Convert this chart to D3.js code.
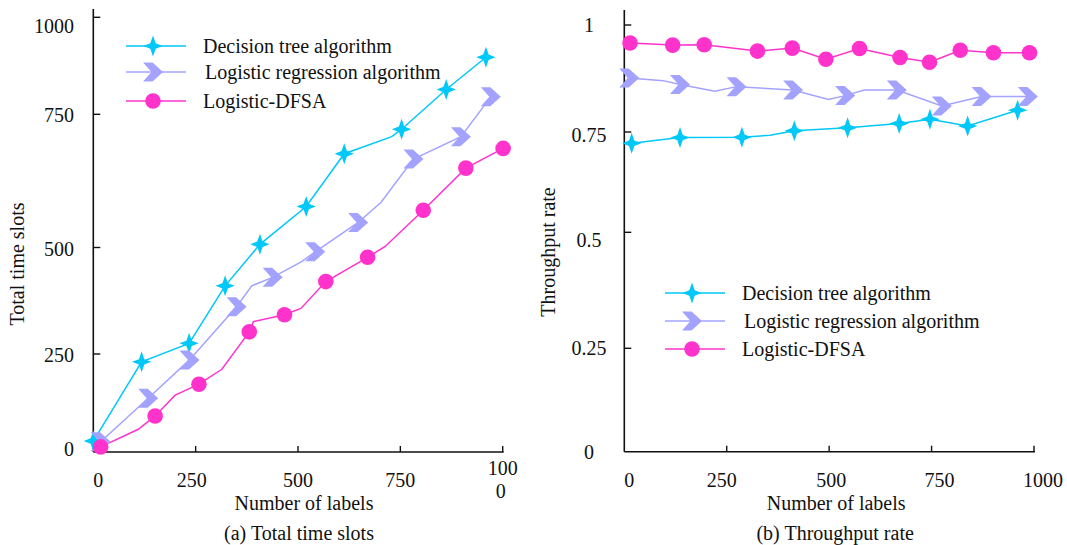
<!DOCTYPE html>
<html><head><meta charset="utf-8">
<script src="https://cdn.jsdelivr.net/npm/d3@7"></script>
<style>
body{margin:0;background:#fff;}
svg{display:block;}
</style></head>
<body><svg id="c" width="1067" height="545" font-family="'Liberation Serif', 'DejaVu Serif', serif" font-size="20"></svg>
<script>
// ---------- data ----------
const seriesNames = ["Decision tree algorithm", "Logistic regression algorithm", "Logistic-DFSA"];
const xTicks = [0, 250, 500, 750, 1000];
const timeTicks = [0, 250, 500, 750, 1000];
const rateTicks = [0, 0.25, 0.5, 0.75, 1];
// [labels, value, marker?]
const treeTime = [[0,28,1],[118,230,1],[234,275,1],[322,410,1],[407,506,1],[520,577,1],[613,676,1],[729,708,0],[753,722,1],[862,814,1],[959,897,1]];
const logTime  = [[18,26,1],[134,137,1],[235,235,1],[350,361,1],[387,410,0],[438,430,1],[509,467,0],[542,490,1],[647,547,1],[703,585,0],[782,666,1],[898,708,1],[971,795,1]];
const dfsaTime = [[18,13,1],[110,58,0],[151,92,1],[200,145,0],[258,173,1],[314,211,0],[381,302,1],[391,326,0],[467,342,1],[507,357,0],[568,420,1],[670,477,1],[713,502,0],[806,570,1],[910,649,1],[1001,686,1]];
const treeRate = [[18,0.722,1],[136,0.736,1],[287,0.737,1],[356,0.742,0],[415,0.753,1],[545,0.760,1],[671,0.770,1],[746,0.780,1],[838,0.764,1],[960,0.801,1]];
const logRate  = [[12,0.876,1],[95,0.870,0],[136,0.861,1],[221,0.845,0],[274,0.856,1],[412,0.848,1],[498,0.826,0],[539,0.835,1],[586,0.848,0],[665,0.848,1],[775,0.811,1],[872,0.833,1],[985,0.833,1]];
const dfsaRate = [[14,0.958,1],[118,0.953,1],[195,0.954,1],[325,0.939,1],[410,0.946,1],[492,0.920,1],[574,0.945,1],[673,0.924,1],[745,0.913,1],[820,0.941,1],[901,0.935,1],[989,0.935,1]];

const colors = ["#00c8f8", "#a3a3ff", "#ff33cc"];

// ---------- marker shapes ----------
function starPath(){ // 4-point star
  const R=10.5, r=3.8;
  const pts=[];
  for(let i=0;i<8;i++){
    const a = -Math.PI/2 + i*Math.PI/4;
    const rr = i%2===0 ? R : r;
    pts.push([rr*Math.cos(a)*(i%4===2?0.92:1), rr*Math.sin(a)]);
  }
  return "M"+pts.map(p=>p.join(",")).join("L")+"Z";
}
function chevronPath(){
  return "M-10,-9.5L-0.5,-9.5L10,0L-0.5,9.5L-10,9.5L-1.5,0Z";
}
function drawMarker(g, k, x, y){
  if(k===0) g.append("path").attr("d", starPath()).attr("transform",`translate(${x},${y})`).attr("fill",colors[0]);
  else if(k===1) g.append("path").attr("d", chevronPath()).attr("transform",`translate(${x},${y})`).attr("fill",colors[1]);
  else g.append("circle").attr("cx",x).attr("cy",y).attr("r",7.8).attr("fill",colors[2]);
}

const svg = d3.select("#c");

function panel(opts){
  const g = svg.append("g");
  const x = d3.scaleLinear().domain([0,1000]).range(opts.xRange);
  const y = d3.scaleLinear().domain(opts.yDomain).range(opts.yRange);
  const x0 = opts.xRange[0], x1 = opts.xRange[1], yb = opts.yRange[0];
  g.append("line").attr("x1",x0).attr("x2",x0).attr("y1",opts.yTop).attr("y2",yb).attr("stroke","#111").attr("stroke-width",1.6);
  g.append("line").attr("x1",x0).attr("x2",x1+1).attr("y1",yb).attr("y2",yb).attr("stroke","#111").attr("stroke-width",1.6);
  opts.yTicks.forEach(t=>{
    if(t!==opts.yTicks[0]) g.append("line").attr("x1",x0).attr("x2",x0+7).attr("y1",y(t)).attr("y2",y(t)).attr("stroke","#111").attr("stroke-width",1.4);
    g.append("text").attr("x",opts.yLabelX).attr("y",y(t)+opts.yLabelDy(t)).attr("dy","0.35em")
      .attr("text-anchor",opts.yAnchor).attr("fill","#111").text(opts.yFmt(t));
  });
  xTicks.forEach(t=>{
    if(t!==0) g.append("line").attr("x1",x(t)).attr("x2",x(t)).attr("y1",yb).attr("y2",yb-6).attr("stroke","#111").attr("stroke-width",1.4);
    const lab = g.append("text").attr("x",x(t)+opts.xLabelDx(t)).attr("y",480).attr("dy","0.35em").attr("text-anchor","middle").attr("fill","#111");
    if(opts.wrap1000 && t===1000){
      lab.attr("y",468).text("100");
      g.append("text").attr("x",x(t)-2).attr("y",491).attr("dy","0.35em").attr("text-anchor","middle").attr("fill","#111").text("0");
    } else lab.text(String(t));
  });
  g.append("text").attr("x",(x0+x1)/2+opts.titleDx).attr("y",503).attr("dy","0.35em").attr("text-anchor","middle").attr("fill","#111").text("Number of labels");
  g.append("text").attr("x",(x0+x1)/2+opts.captionDx).attr("y",533).attr("dy","0.35em").attr("text-anchor","middle").attr("fill","#111").text(opts.caption);
  g.append("text").attr("transform",`translate(${opts.yTitleX},${opts.yTitleY}) rotate(-90)`).attr("dy","0.35em").attr("text-anchor","middle").attr("fill","#111").text(opts.yTitle);
  const line = d3.line().x(d=>x(d[0])).y(d=>y(d[1]));
  opts.series.forEach((s,k)=>{
    g.append("path").datum(s).attr("d",line).attr("fill","none").attr("stroke",colors[k]).attr("stroke-width",1.5);
  });
  opts.series.forEach((s,k)=>{
    s.filter(d=>d[2]).forEach(d=>drawMarker(g,k,x(d[0]),y(d[1])));
  });
  seriesNames.forEach((n,k)=>{
    const ly = opts.legY[k];
    g.append("line").attr("x1",opts.legX).attr("x2",opts.legX+60).attr("y1",ly).attr("y2",ly).attr("stroke",colors[k]).attr("stroke-width",1.5);
    drawMarker(g,k,opts.legX+27,ly);
    g.append("text").attr("x",opts.legX+77+(k===1?2:0)).attr("y",ly).attr("dy","0.35em").attr("fill","#111").text(n);
  });
}

panel({
  xRange:[93.3,502.7], yDomain:timeTicks, yRange:[452,354,247.5,114.3,17.3], yTop:9,
  yTicks:timeTicks, yLabelX:74, yAnchor:"end", yFmt:d=>String(d),
  yLabelDy:t=> t===1000?9:(t===0?-3:1),
  xLabelDx:t=> t===0?5:(t===250?-4:0), wrap1000:true,
  titleDx:6, captionDx:1, caption:"(a) Total time slots",
  yTitle:"Total time slots", yTitleX:17, yTitleY:264,
  series:[treeTime, logTime, dfsaTime],
  legX:126, legY:[46,72,101]
});
panel({
  xRange:[624.3,1034], yDomain:rateTicks, yRange:[451.7,348.3,232.3,132,25], yTop:10,
  yTicks:rateTicks, yLabelX:589, yAnchor:"middle", yFmt:d=>String(d),
  yLabelDy:t=> t===0.75?3:(t===0.5?8:0),
  xLabelDx:t=> t===0?5:(t===250?-5:(t===1000?9:(t===750?8:2))), wrap1000:false,
  titleDx:7, captionDx:6, caption:"(b) Throughput rate",
  yTitle:"Throughput rate", yTitleX:548, yTitleY:252,
  series:[treeRate, logRate, dfsaRate],
  legX:665, legY:[293,321,349]
});
</script></body></html>
